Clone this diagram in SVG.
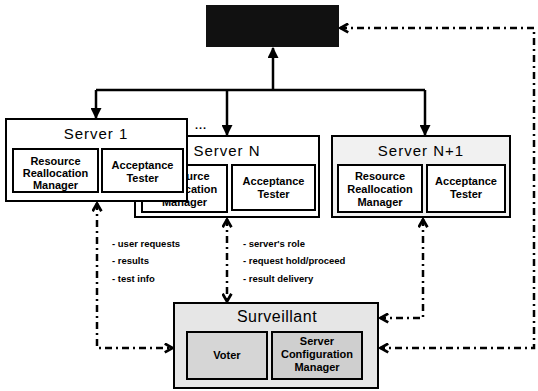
<svg xmlns="http://www.w3.org/2000/svg" width="538" height="391" viewBox="0 0 538 391">
<style>
.box{stroke:#000;stroke-width:2}
.title{font-family:"Liberation Sans",Arial,sans-serif;font-size:15px;letter-spacing:1px;text-anchor:middle;fill:#000}
.inner{font-family:"Liberation Sans",Arial,sans-serif;font-size:11px;font-weight:bold;text-anchor:middle;fill:#000}
.lbl{font-family:"Liberation Sans",Arial,sans-serif;font-size:9.5px;font-weight:bold;fill:#000}
.solid{fill:none;stroke:#000;stroke-width:2.5}
.dd{fill:none;stroke:#000;stroke-width:2.5;stroke-dasharray:7 4 2 4}
</style>
<defs>
<marker id="tri" viewBox="0 0 10 10" refX="9" refY="5" markerWidth="11" markerHeight="11" markerUnits="userSpaceOnUse" orient="auto"><path d="M0,0 L10,5 L0,10 z" fill="#000"/></marker>
<marker id="chev" viewBox="0 0 10 10" refX="9" refY="5" markerWidth="11" markerHeight="11" markerUnits="userSpaceOnUse" orient="auto-start-reverse"><path d="M1.5,1 L8.5,5 L1.5,9" fill="none" stroke="#000" stroke-width="2.5"/></marker>
</defs>
<rect width="538" height="391" fill="#fff"/>

<g id="top">
<rect x="206" y="5" width="133" height="42" fill="#111"/>
</g>

<g id="serverN">
<rect class="box" x="135" y="136" width="184" height="81" fill="#fff"/>
<text class="title" x="227" y="156">Server N</text>
<rect class="box" x="142" y="165" width="85" height="47" fill="#fff"/>
<text class="inner" x="184.5" y="180">Resource</text>
<text class="inner" x="184.5" y="193">Reallocation</text>
<text class="inner" x="184.5" y="206">Manager</text>
<rect class="box" x="232" y="165" width="83" height="45" fill="#fff"/>
<text class="inner" x="273.5" y="185">Acceptance</text>
<text class="inner" x="273.5" y="198">Tester</text>
</g>

<g id="server1">
<rect class="box" x="6" y="119" width="181" height="82" fill="#fff"/>
<text class="title" x="96" y="139">Server 1</text>
<rect class="box" x="13" y="149" width="85" height="43" fill="#fff"/>
<text class="inner" x="55.5" y="165">Resource</text>
<text class="inner" x="55.5" y="177">Reallocation</text>
<text class="inner" x="55.5" y="189">Manager</text>
<rect class="box" x="102" y="149" width="81" height="43" fill="#fff"/>
<text class="inner" x="142.5" y="169">Acceptance</text>
<text class="inner" x="142.5" y="182">Tester</text>
</g>

<g id="serverN1">
<rect class="box" x="332" y="136" width="178" height="81" fill="#f1f1f1"/>
<text class="title" x="421" y="156">Server N+1</text>
<rect class="box" x="338" y="165" width="84" height="47" fill="#fff"/>
<text class="inner" x="380" y="180">Resource</text>
<text class="inner" x="380" y="193">Reallocation</text>
<text class="inner" x="380" y="206">Manager</text>
<rect class="box" x="427" y="165" width="78" height="47" fill="#fff"/>
<text class="inner" x="466" y="185">Acceptance</text>
<text class="inner" x="466" y="198">Tester</text>
</g>

<g id="surveillant">
<rect class="box" x="174" y="303" width="204" height="85" fill="#e6e6e6"/>
<text class="title" x="277" y="322" style="font-size:16px;letter-spacing:0.5px">Surveillant</text>
<rect class="box" x="187" y="332" width="80" height="47" fill="#d6d6d6"/>
<text class="inner" x="227" y="359">Voter</text>
<rect class="box" x="272" y="332" width="90" height="47" fill="#cfcfcf"/>
<text class="inner" x="317" y="345">Server</text>
<text class="inner" x="317" y="358">Configuration</text>
<text class="inner" x="317" y="371">Manager</text>
</g>

<g id="connectors">
<path class="solid" d="M96,90 H425"/>
<path class="solid" d="M273,90 V48" marker-end="url(#tri)"/>
<path class="solid" d="M96,90 V118" marker-end="url(#tri)"/>
<path class="solid" d="M227,90 V135" marker-end="url(#tri)"/>
<path class="solid" d="M425,90 V135" marker-end="url(#tri)"/>
<path class="dd" d="M97,203 V348 H173" marker-start="url(#chev)" marker-end="url(#chev)"/>
<path class="dd" d="M227,219 V302" marker-start="url(#chev)" marker-end="url(#chev)"/>
<path class="dd" d="M423,219 V318 H380" marker-start="url(#chev)" marker-end="url(#chev)"/>
<path class="dd" d="M340,28 H534 V348 H380" marker-start="url(#chev)" marker-end="url(#chev)"/>
</g>

<g id="labels">
<text class="lbl" x="195" y="129" style="font-size:11px;letter-spacing:1px">...</text>
<text class="lbl" x="112" y="247">- user requests</text>
<text class="lbl" x="112" y="264">- results</text>
<text class="lbl" x="112" y="282">- test info</text>
<text class="lbl" x="243" y="247">- server's role</text>
<text class="lbl" x="243" y="264">- request hold/proceed</text>
<text class="lbl" x="243" y="282">- result delivery</text>
</g>
</svg>
